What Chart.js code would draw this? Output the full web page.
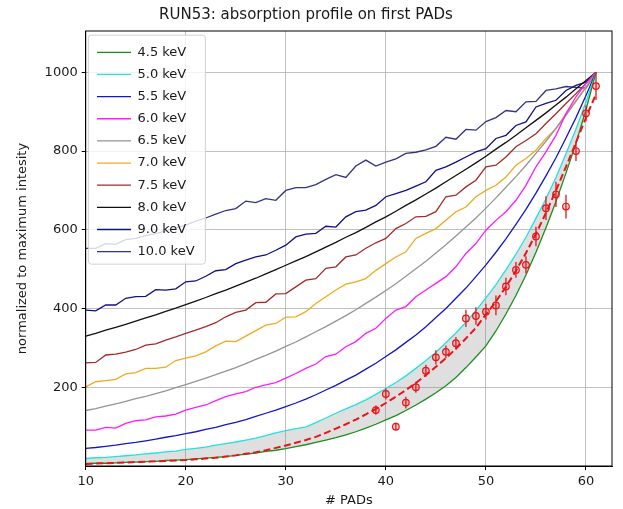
<!DOCTYPE html>
<html>
<head>
<meta charset="utf-8">
<script src="https://cdn.jsdelivr.net/npm/chart.js"></script>
<style>
  body { margin: 0; background: #fff; }
  #wrap { width: 623px; height: 509px; }
</style>
</head>
<body>
<div id="wrap"><canvas id="absChart" width="623" height="509"></canvas></div>
<script>
// pad index on the x axis
const pads = [10, 11, 12, 13, 14, 15, 16, 17, 18, 19, 20, 21, 22, 23, 24, 25, 26, 27, 28, 29, 30, 31, 32, 33, 34, 35,
    36, 37, 38, 39, 40, 41, 42, 43, 44, 45, 46, 47, 48, 49, 50, 51, 52, 53, 54, 55, 56, 57, 58, 59, 60, 61];

// simulated profiles, one per energy (normalized to 1000 at the last pad)
const e45 = [6, 7, 7, 8, 9, 10, 11, 12, 14, 15, 16, 18, 20, 22, 24, 27, 30, 33, 37, 40, 44, 49, 54, 60, 66, 72,
    79, 87, 96, 106, 117, 128, 141, 155, 170, 186, 204, 225, 250, 277, 305, 343, 386, 433, 485, 543, 605, 672, 744, 820, 905, 1000];
const e50 = [19, 21, 22, 24, 26, 28, 31, 33, 36, 38, 42, 45, 48, 53, 57, 61, 66, 71, 77, 84, 90, 95, 99, 110, 122, 134,
    145, 156, 168, 182, 197, 212, 229, 248, 268, 289, 313, 338, 365, 395, 427, 461, 498, 538, 581, 629, 679, 733, 793, 856, 925, 1000];
const e55 = [45, 47, 50, 53, 57, 60, 64, 68, 73, 77, 82, 87, 93, 98, 105, 111, 118, 126, 134, 142, 151, 160, 170, 181, 193, 205,
    218, 231, 246, 261, 278, 295, 314, 333, 354, 377, 400, 426, 452, 481, 511, 543, 577, 614, 652, 693, 737, 783, 833, 885, 941, 1000];
const e60 = [91, 91, 98, 96, 108, 115, 117, 125, 127, 132, 142, 149, 155, 166, 176, 183, 189, 200, 206, 212, 223, 235, 248, 259, 278, 284,
    303, 316, 337, 350, 375, 396, 405, 430, 447, 464, 481, 506, 540, 565, 599, 624, 646, 675, 713, 760, 798, 840, 895, 938, 972, 1000];
const e65 = [141, 146, 152, 158, 164, 171, 177, 184, 191, 199, 207, 215, 223, 232, 241, 250, 260, 271, 281, 292, 304, 315, 328, 341, 354, 368,
    382, 397, 413, 429, 446, 463, 482, 501, 520, 541, 562, 584, 607, 630, 655, 681, 708, 735, 764, 794, 825, 858, 891, 926, 962, 1000];
const e70 = [201, 214, 217, 220, 234, 237, 248, 248, 251, 268, 274, 280, 290, 305, 317, 316, 330, 344, 358, 362, 378, 379, 392, 413, 430, 447,
    462, 468, 476, 497, 514, 531, 544, 578, 591, 603, 624, 646, 658, 684, 700, 713, 734, 764, 781, 802, 832, 857, 895, 929, 963, 1000];
const e75 = [262, 263, 282, 284, 289, 296, 307, 310, 320, 328, 337, 345, 354, 364, 379, 390, 396, 415, 416, 437, 438, 455, 472, 476, 502, 506,
    531, 536, 553, 567, 578, 603, 616, 633, 634, 646, 684, 688, 709, 726, 760, 764, 785, 811, 827, 844, 870, 895, 921, 946, 972, 1000];
const e80 = [330, 337, 345, 352, 360, 368, 376, 384, 393, 401, 410, 419, 428, 438, 447, 457, 467, 477, 488, 499, 510, 521, 532, 544, 556, 568,
    581, 593, 606, 620, 633, 647, 662, 676, 691, 706, 722, 738, 754, 770, 787, 805, 822, 840, 859, 878, 897, 917, 937, 958, 979, 1000];
const e90 = [396, 394, 409, 409, 426, 430, 431, 448, 447, 450, 468, 470, 482, 496, 499, 514, 523, 531, 536, 548, 561, 582, 589, 591, 609, 607,
    633, 646, 650, 662, 684, 692, 700, 711, 722, 751, 760, 772, 785, 798, 806, 832, 840, 865, 874, 912, 921, 929, 954, 967, 975, 1000];
const e100 = [553, 553, 565, 563, 575, 578, 585, 590, 597, 605, 612, 622, 630, 640, 649, 654, 673, 669, 679, 675, 700, 707, 707, 715, 728, 740,
    733, 762, 777, 762, 772, 780, 794, 797, 803, 812, 835, 830, 855, 853, 875, 885, 903, 900, 925, 926, 954, 958, 964, 962, 960, 1000];

// fit to the measurement (red dashed)
const fitY = [5, 6, 7, 8, 9, 10, 11, 12, 13, 14, 15, 17, 19, 21, 24, 27, 31, 35, 40, 46, 52, 59, 66, 74, 84, 95,
    106, 118, 131, 145, 160, 176, 193, 211, 231, 252, 274, 298, 324, 351, 385, 418, 455, 496, 541, 590, 643, 700, 760, 822, 885, 945];

// measured points with errors
const measX = [39, 40, 41, 42, 43, 44, 45, 46, 47, 48, 49, 50, 51, 52, 53, 54, 55, 56, 57, 58, 59, 60, 61];
const measY = [142, 183, 100, 161, 200, 242, 276, 290, 312, 375, 381, 392, 408, 456, 498, 511, 583, 655, 690, 659, 800, 896, 965];
const measErr = [12, 14, 10, 15, 14, 15, 18, 16, 16, 22, 22, 20, 25, 22, 20, 22, 25, 30, 32, 30, 25, 20, 35];

const energies = ['4.5 keV', '5.0 keV', '5.5 keV', '6.0 keV', '6.5 keV', '7.0 keV', '7.5 keV', '8.0 keV', '9.0 keV', '10.0 keV'];
const profiles = [e45, e50, e55, e60, e65, e70, e75, e80, e90, e100];
const colors = ['#1e8c1e', '#22e2e2', '#1515c8', '#ff1aff', '#959595', '#efaa22', '#a52a2a', '#111111', '#10108a', '#33337f'];

const xTicks = [10, 20, 30, 40, 50, 60];
const yTicks = [200, 400, 600, 800, 1000];

const font = { family: 'DejaVu Sans', size: 13 };
const textColor = '#1a1a1a';

const datasets = profiles.map((vals, i) => ({
    label: energies[i],
    data: pads.map((p, k) => ({ x: p, y: vals[k] })),
    borderColor: colors[i],
    backgroundColor: i === 1 ? 'rgba(128,128,128,0.25)' : colors[i],
    borderWidth: 1.3,
    pointRadius: 0,
    fill: i === 1 ? '-1' : false,
    order: 1
}));

datasets.push({
    label: 'fit',
    data: pads.map((p, k) => ({ x: p, y: fitY[k] })),
    borderColor: '#e8141a',
    borderWidth: 2,
    borderDash: [7, 3.5],
    pointRadius: 0,
    fill: false,
    order: 0
});

datasets.push({
    label: 'data',
    data: measX.map((p, k) => ({ x: p, y: measY[k] })),
    showLine: false,
    borderColor: '#e8141a',
    backgroundColor: 'rgba(255,80,80,0.25)',
    borderWidth: 1.2,
    pointRadius: 3.3,
    pointStyle: 'circle',
    order: 0
});

// error bars + legend frame, drawn on top of the curves
const overlay = {
    id: 'overlay',
    afterInit(chart) {
        const lg = chart.legend;
        if (lg) lg._layers = () => [{ z: 1, draw: (area) => lg.draw(area) }];
    },
    afterLayout(chart) {
        const lg = chart.legend;
        const ca = chart.chartArea;
        lg.left = 87.85;
        lg.top = 36.65;
        lg.right = lg.left + 117;
        lg.bottom = ca.bottom;
    },
    afterDatasetsDraw(chart) {
        const { ctx, scales: { x, y } } = chart;
        ctx.save();
        ctx.strokeStyle = '#e8141a';
        ctx.lineWidth = 1.3;
        measX.forEach((px, i) => {
            const cx = x.getPixelForValue(px);
            ctx.beginPath();
            ctx.moveTo(cx, y.getPixelForValue(measY[i] - measErr[i]));
            ctx.lineTo(cx, y.getPixelForValue(measY[i] + measErr[i]));
            ctx.stroke();
        });
        // legend box
        const lg = chart.legend;
        ctx.fillStyle = 'rgba(255,255,255,0.8)';
        ctx.strokeStyle = '#d0d0d0';
        ctx.lineWidth = 1;
        ctx.beginPath();
        ctx.roundRect(lg.left + 0.5, lg.top - 1.5, 117, 229, 3);
        ctx.fill();
        ctx.stroke();
        ctx.restore();
    },
    afterDraw(chart) {
        const { ctx, chartArea: a } = chart;
        ctx.save();
        ctx.strokeStyle = '#000';
        ctx.lineWidth = 1;
        ctx.strokeRect(a.left, a.top, a.right - a.left, a.bottom - a.top);
        ctx.restore();
    }
};

new Chart(document.getElementById('absChart').getContext('2d'), {
    type: 'line',
    data: { datasets: datasets },
    plugins: [overlay],
    options: {
        responsive: false,
        animation: false,
        devicePixelRatio: 1,
        layout: { padding: { left: 0, right: 11, top: 0, bottom: 0 } },
        plugins: {
            title: {
                display: true,
                text: 'RUN53: absorption profile on first PADs',
                color: textColor,
                font: { family: 'DejaVu Sans', size: 15, weight: 'normal' },
                padding: { top: 6, bottom: 7 }
            },
            legend: {
                position: 'chartArea',
                align: 'start',
                labels: {
                    filter: (item) => item.datasetIndex < 10,
                    usePointStyle: true,
                    pointStyle: 'line',
                    pointStyleWidth: 34,
                    padding: 9.15,
                    color: textColor,
                    font: font
                }
            },
            tooltip: { enabled: false }
        },
        scales: {
            x: {
                type: 'linear',
                min: 10,
                max: 62.6,
                afterBuildTicks: (s) => { s.ticks = xTicks.map(v => ({ value: v })); },
                afterFit: (s) => { s.height = 43; },
                ticks: { color: textColor, font: font, padding: 4, callback: (v) => String(v) },
                grid: { color: '#b0b0b0', lineWidth: 0.8, tickLength: 4, tickColor: '#000', tickWidth: 1 },
                border: { color: '#000', width: 1 },
                title: { display: true, text: '# PADs', color: textColor, font: font, padding: { top: 0, bottom: 1 } }
            },
            y: {
                min: 0,
                max: 1105,
                afterBuildTicks: (s) => { s.ticks = yTicks.map(v => ({ value: v })); },
                afterFit: (s) => { s.width = 85.7; },
                ticks: { color: textColor, font: font, padding: 4, callback: (v) => String(v) },
                grid: { color: '#b0b0b0', lineWidth: 0.8, tickLength: 4, tickColor: '#000', tickWidth: 1 },
                border: { color: '#000', width: 1 },
                title: { display: true, text: 'normalized to maximum intesity', color: textColor, font: font, padding: { top: 15, bottom: 0 } }
            }
        }
    }
});
</script>
</body>
</html>
